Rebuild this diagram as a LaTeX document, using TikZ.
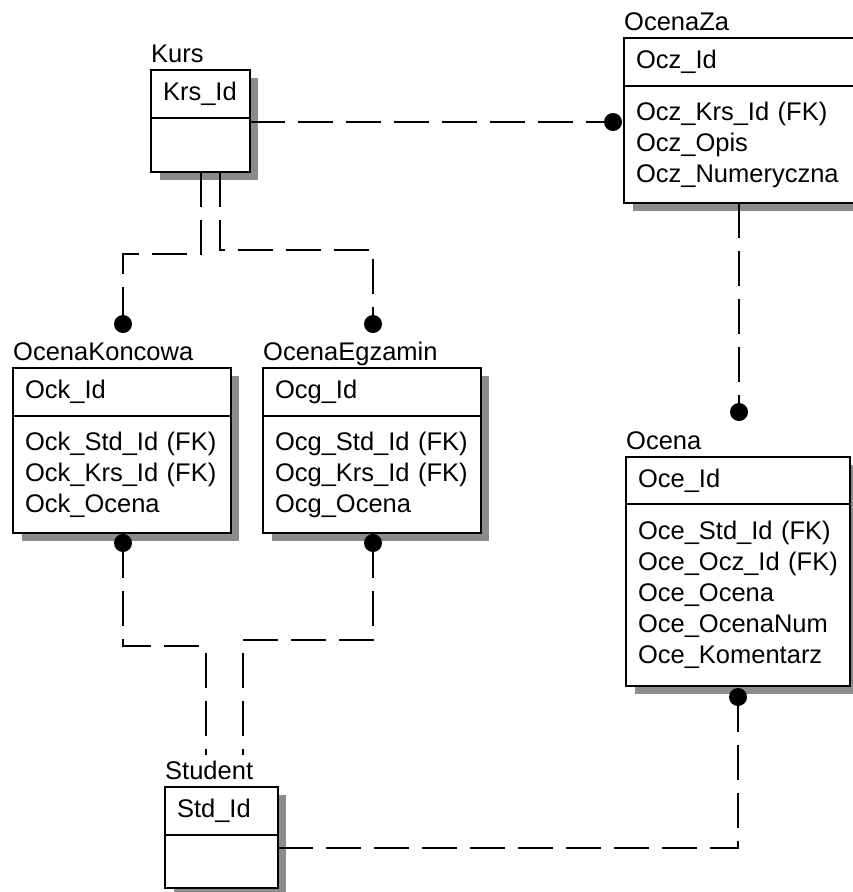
\documentclass[tikz,border=0pt]{standalone}
\usepackage{fontspec}
\setmainfont{Liberation Sans}
\usetikzlibrary{positioning,backgrounds}

\begin{document}
\begin{tikzpicture}[
  x=1pt, y=-1pt,
  font=\fontsize{25.5}{31}\selectfont,
  every node/.style={inner sep=0pt},
  keybox/.style={draw, line width=2pt, fill=white, anchor=north west,
    align=left, inner xsep=12pt, outer sep=0pt, minimum height=48pt},
  attrbox/.style={draw, line width=2pt, fill=white, align=left,
    inner xsep=12pt, outer sep=0pt, below=0pt of #1},
  title/.style={label={[anchor=base west, yshift=8pt]north west:#1}},
  rel/.style={line width=2pt, dash pattern=on 35pt off 13pt},
  fkdot/.style={circle, fill, minimum size=18pt},
  shadowfill/.style={fill=black!45}
]
\useasboundingbox (0,0) rectangle (852,892);

% entities: key part on top, attributes below
\node[keybox, text width=75pt, title=Kurs] (hkurs) at (151,70) {Krs\_Id};
\node[attrbox=hkurs, text width=75pt, minimum height=54pt] (kurs) {};

\node[keybox, text width=212pt, title=OcenaZa] (hocz) at (624,38) {Ocz\_Id};
\node[attrbox=hocz, text width=212pt, minimum height=117pt] (ocz)
  {Ocz\_Krs\_Id (FK)\\Ocz\_Opis\\Ocz\_Numeryczna};

\node[keybox, text width=194pt, title=OcenaKoncowa] (hock) at (13,368) {Ock\_Id};
\node[attrbox=hock, text width=194pt, minimum height=117pt] (ock)
  {Ock\_Std\_Id (FK)\\Ock\_Krs\_Id (FK)\\Ock\_Ocena};

\node[keybox, text width=194pt, title=OcenaEgzamin] (hocg) at (263,368) {Ocg\_Id};
\node[attrbox=hocg, text width=194pt, minimum height=117pt] (ocg)
  {Ocg\_Std\_Id (FK)\\Ocg\_Krs\_Id (FK)\\Ocg\_Ocena};

\node[keybox, text width=200pt, minimum height=47pt, title=Ocena] (hoce) at (626,457) {Oce\_Id};
\node[attrbox=hoce, text width=200pt, minimum height=182pt] (oce)
  {Oce\_Std\_Id (FK)\\Oce\_Ocz\_Id (FK)\\Oce\_Ocena\\Oce\_OcenaNum\\Oce\_Komentarz};

\node[keybox, text width=89pt, title=Student] (hstd) at (165,787) {Std\_Id};
\node[attrbox=hstd, text width=89pt, minimum height=53pt] (std) {};

% shadows
\begin{scope}[on background layer]
  \foreach \e in {kurs,ocz,ock,ocg,oce,std}
    \fill[shadowfill] ([shift={(9pt,-8pt)}]h\e.north west)
      rectangle ([shift={(8pt,-8pt)}]\e.south east);
\end{scope}

% relationships
\draw[rel] (kurs.south) -- ++(0,82) -| (123,324);
\draw[rel] ([xshift=19pt]kurs.south) -- ++(0,78) -| (373,324);
\draw[rel] (kurs.east |- 0,122) -- (613,122);
\draw[rel] (ocz.south -| 739,0) -- (739,412);
\draw[rel] (123,543) -- ++(0,103) -| ([xshift=-16pt,yshift=32pt]hstd.north);
\draw[rel] (373,543) -- ++(0,97) -| ([xshift=21pt,yshift=32pt]hstd.north);
\draw[rel] (738,697) |- ([yshift=-13pt]std.north east);

\node[fkdot] (dz) at (613,122) {};
\node[fkdot] (dk1) at (123,324) {};
\node[fkdot] (dg1) at (373,324) {};
\node[fkdot] (dk2) at (123,543) {};
\node[fkdot] (dg2) at (373,543) {};
\node[fkdot] (dc1) at (739,412) {};
\node[fkdot] (dc2) at (738,697) {};
\end{tikzpicture}
\end{document}
